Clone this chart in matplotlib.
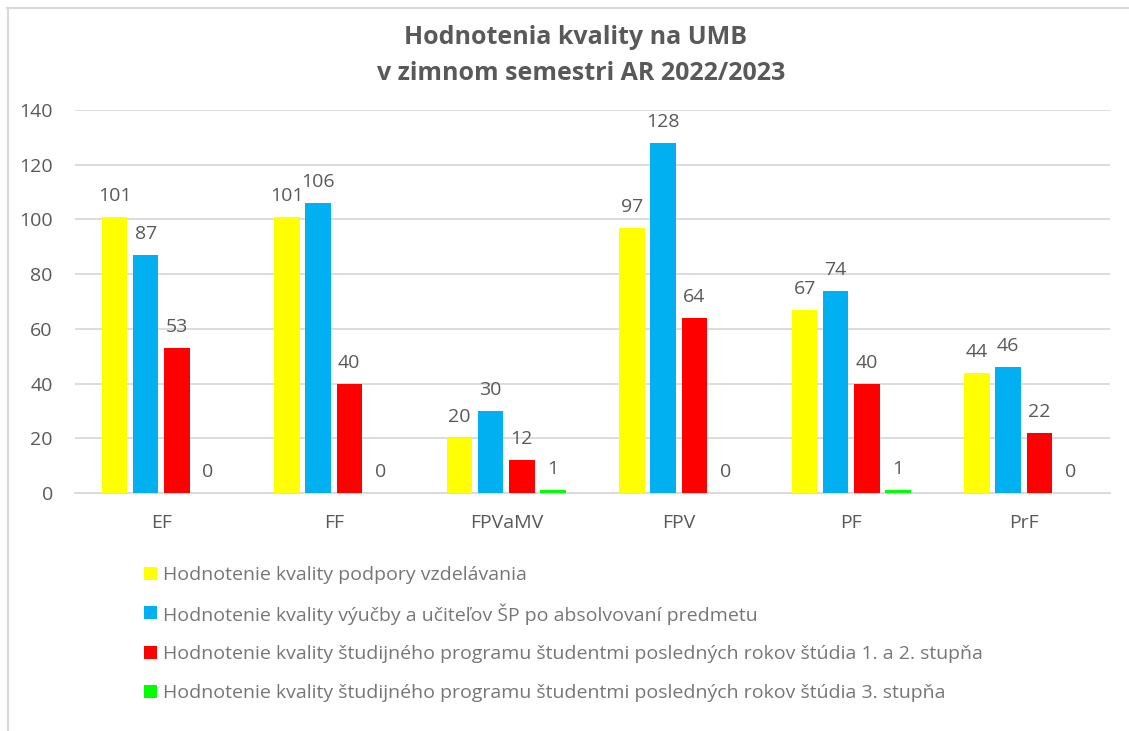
import matplotlib
matplotlib.use("Agg")
import matplotlib.pyplot as plt
from matplotlib.lines import Line2D
from matplotlib.patches import Rectangle
import numpy as np

plt.rcParams['font.family'] = ['Open Sans', 'DejaVu Sans']

categories = ["EF", "FF", "FPVaMV", "FPV", "PF", "PrF"]
series_names = [
    "Hodnotenie kvality podpory vzdelávania",
    "Hodnotenie kvality výučby a učiteľov ŠP po absolvovaní predmetu",
    "Hodnotenie kvality študijného programu študentmi posledných rokov štúdia 1. a 2. stupňa",
    "Hodnotenie kvality študijného programu študentmi posledných rokov štúdia 3. stupňa",
]
podpora = [101, 101, 20, 97, 67, 44]
vyucba = [87, 106, 30, 128, 74, 46]
program_12 = [53, 40, 12, 64, 40, 22]
program_3 = [0, 0, 1, 0, 1, 0]
colors = ["#FFFF00", "#00B0F0", "#FF0000", "#00FF00"]
yticks = [0, 20, 40, 60, 80, 100, 120, 140]

W, H = 1129, 731
TXT = "#595959"
fig = plt.figure(figsize=(W / 100, H / 100), dpi=100)
ax = fig.add_axes([75/W, 238/H, (1110-75)/W, (493-110)/H])

x = np.arange(len(categories))
step = 0.18
width = 0.148
for i, (vals, col, name) in enumerate(zip([podpora, vyucba, program_12, program_3], colors, series_names)):
    pos = x + (i - 1.5) * step
    ax.bar(pos, vals, width=width, color=col, label=name, zorder=3)
    for p, v in zip(pos, vals):
        ax.annotate(str(v), (p, v), xytext=(0, 8.5), textcoords="offset points",
                    ha="center", va="bottom", fontsize=14, color=TXT)

ax.set_xlim(-0.5, len(categories) - 0.5)
ax.set_ylim(0, 140)
ax.set_yticks(yticks)
ax.set_yticklabels([str(t) for t in yticks])
ax.set_xticks(x)
ax.set_xticklabels(categories)
ax.tick_params(axis="both", length=0, labelsize=14, colors=TXT)
ax.tick_params(axis="y", pad=16)
ax.tick_params(axis="x", pad=15)
ax.grid(axis="y", color="#D9D9D9", linewidth=1.3, zorder=0)
for s in ["top", "right", "left"]:
    ax.spines[s].set_visible(False)
ax.spines["bottom"].set_color("#D9D9D9")
ax.spines["bottom"].set_linewidth(1.3)

fig.text(576/W, 1 - 38/H, "Hodnotenia kvality na UMB", ha="center", va="center",
         fontsize=18, fontweight="bold", color=TXT)
fig.text(581/W, 1 - 73/H, "v zimnom semestri AR 2022/2023", ha="center", va="center",
         fontsize=18, fontweight="bold", color=TXT)

# legend, laid out as in the reference
row_y = [573, 612, 652, 691]
for name, col, yy in zip(series_names, colors, row_y):
    fig.add_artist(Rectangle((144/W, 1 - (yy + 6.5)/H), 13/W, 13/H,
                             transform=fig.transFigure, color=col, linewidth=0))
    fig.text(163/W, 1 - yy/H, name, ha="left", va="center_baseline",
             fontsize=14, color="#767676")

# chart border (top and left)
fig.add_artist(Line2D([7/W, 1], [1 - 7.5/H, 1 - 7.5/H], transform=fig.transFigure,
                      color="#D9D9D9", linewidth=1.5))
fig.add_artist(Line2D([7.5/W, 7.5/W], [0, 1 - 7.5/H], transform=fig.transFigure,
                      color="#D9D9D9", linewidth=1.5))

fig.savefig("out.png", dpi=100)
